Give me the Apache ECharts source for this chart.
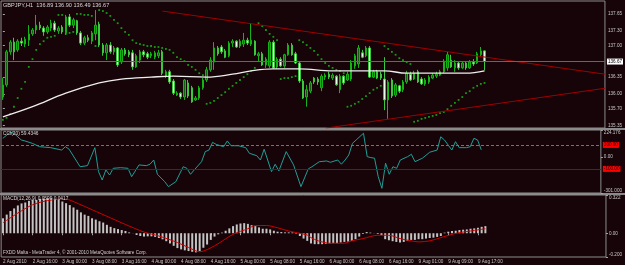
<!DOCTYPE html>
<html><head><meta charset="utf-8">
<script src="https://cdn.jsdelivr.net/npm/echarts@6/dist/echarts.min.js"></script>
<style>html,body{margin:0;padding:0;background:#160408;}#c{width:625px;height:265px;}</style>
</head><body><div id="c"></div>
<script>
// ---------- data ----------
const timeLabels = ['2 Aug 2010','2 Aug 16:00','3 Aug 00:00','3 Aug 08:00','3 Aug 16:00','4 Aug 00:00','4 Aug 08:00','4 Aug 16:00','5 Aug 00:00','5 Aug 08:00','5 Aug 16:00','6 Aug 00:00','6 Aug 08:00','6 Aug 16:00','9 Aug 01:00','9 Aug 09:00','9 Aug 17:00'];
const priceTicks = [137.65,137.30,137.00,136.35,136.00,135.70,135.35];
const cciTicks = [224.176,0,-301];
const cciTickText = ['224.176','0.00','-301.000'];
const macdTicks = [0.322,0,-0.2];
const macdTickText = ['0.322','0.00','-0.200'];
const bidPrice = 136.67;
const cciLevels = [100,-100];

const barOpen = [135.94,136.19,136.87,137.07,136.91,137.09,137.03,137.11,137.24,137.32,
137.42,137.36,137.28,137.36,137.46,137.30,137.38,137.26,137.59,137.42,
137.51,137.26,137.05,137.16,137.09,137.24,137.44,137.01,136.85,137.01,
136.87,136.95,136.66,136.91,136.87,136.85,136.56,136.70,136.87,136.83,
136.79,136.76,136.79,136.87,136.37,136.46,136.27,135.98,136.02,135.94,
136.23,136.13,135.88,135.92,136.13,136.29,136.50,136.66,136.95,136.97,
136.89,136.79,137.05,137.09,136.99,137.03,137.11,137.03,137.09,136.79,
136.83,136.60,136.58,137.07,136.56,136.72,136.58,136.81,137.01,136.83,
136.64,136.27,135.94,136.06,136.33,136.31,136.13,136.35,136.41,136.33,
136.37,136.09,136.37,136.29,136.31,136.58,136.62,136.85,136.79,136.95,
136.35,136.46,136.41,136.31,135.88,136.29,135.98,136.17,136.09,136.25,
136.41,136.31,136.46,136.31,136.21,136.25,136.33,136.37,136.39,136.46,
136.54,136.70,136.54,136.64,136.54,136.64,136.54,136.66,136.64,136.81,
136.89];
const barHigh = [136.33,136.91,137.11,137.16,137.13,137.16,137.18,137.42,137.36,137.63,
137.49,137.40,137.42,137.53,137.51,137.40,137.42,137.63,137.65,137.57,
137.53,137.30,137.20,137.22,137.30,137.73,137.49,137.05,137.05,137.07,
136.99,136.97,136.95,136.95,136.91,136.91,136.83,136.91,136.91,136.87,
136.87,136.89,136.91,136.91,136.50,136.50,136.31,136.06,136.04,136.31,
136.29,136.17,135.96,136.17,136.33,136.56,136.76,137.07,136.99,137.01,
136.93,137.09,137.13,137.11,137.13,137.26,137.16,137.46,137.11,136.87,
136.87,136.76,137.11,137.11,136.76,136.76,136.83,137.05,137.05,136.87,
136.68,136.31,136.19,136.27,136.35,136.35,136.41,136.43,136.46,136.43,
136.39,136.41,136.39,136.46,136.70,136.83,137.01,136.91,136.99,136.99,
136.50,136.50,136.46,136.76,136.29,136.33,136.23,136.19,136.29,136.48,
136.46,136.48,136.50,136.35,136.33,136.39,136.43,136.46,136.50,136.72,
136.87,136.81,136.70,136.68,136.68,136.66,136.70,136.72,136.87,136.97,
136.90];
const barLow = [135.88,136.15,136.81,136.70,136.87,136.99,136.97,136.99,137.20,137.24,
137.32,137.20,137.24,137.30,137.28,137.24,137.24,137.22,137.38,137.36,
137.22,137.01,137.01,137.07,137.03,137.11,136.97,136.79,136.70,136.83,
136.81,136.56,136.62,136.79,136.76,136.50,136.54,136.64,136.76,136.72,
136.74,136.72,136.74,136.39,136.33,136.21,135.98,135.96,135.90,135.88,
135.92,135.82,135.86,135.88,136.09,136.25,136.46,136.50,136.79,136.83,
136.74,136.76,136.97,136.95,136.95,136.97,137.01,136.99,136.79,136.66,
136.58,136.54,136.54,136.52,136.52,136.56,136.54,136.79,136.79,136.62,
136.23,135.90,135.74,136.02,136.21,136.19,136.06,136.29,136.31,136.29,
136.17,136.02,136.19,136.27,136.27,136.52,136.54,136.74,136.76,136.33,
136.33,136.31,136.29,135.67,135.49,135.92,135.94,136.02,136.04,136.21,
136.27,136.29,136.23,136.19,136.17,136.21,136.31,136.33,136.37,136.43,
136.48,136.54,136.46,136.50,136.52,136.50,136.52,136.58,136.62,136.76,
136.49];
const barClose = [136.19,136.87,137.07,136.87,137.09,137.05,137.13,137.24,137.32,137.42,
137.36,137.28,137.38,137.46,137.32,137.36,137.28,137.59,137.42,137.53,
137.26,137.05,137.16,137.11,137.26,137.42,137.01,136.85,137.01,136.87,
136.95,136.60,136.91,136.83,136.81,136.56,136.79,136.87,136.81,136.76,
136.83,136.85,136.85,136.43,136.46,136.25,136.02,136.02,135.94,136.29,
135.96,135.84,135.92,136.13,136.29,136.50,136.70,136.95,136.83,136.87,
136.76,137.05,137.09,136.97,137.09,137.11,137.05,137.11,136.81,136.83,
136.60,136.72,137.07,136.54,136.72,136.58,136.81,137.01,136.81,136.64,
136.27,135.92,136.09,136.23,136.25,136.25,136.37,136.39,136.35,136.39,
136.19,136.37,136.23,136.41,136.64,136.79,136.95,136.76,136.95,136.35,
136.46,136.33,136.33,135.88,136.25,135.96,136.19,136.06,136.25,136.43,
136.29,136.43,136.25,136.21,136.29,136.35,136.39,136.41,136.46,136.68,
136.81,136.56,136.64,136.54,136.64,136.54,136.66,136.62,136.83,136.89,
136.67];

const maIdx = [0,8,17,26,32,40,46,55,62,67,73,80,89,98,103,109,116,125,130];
const maVal = [135.53,135.74,136.02,136.23,136.31,136.35,136.37,136.35,136.41,136.48,136.52,136.52,136.48,136.48,136.48,136.43,136.43,136.43,136.48];

const sarVal = [135.47,135.51,135.59,135.74,135.92,136.11,136.25,136.56,136.72,136.91,
137.03,137.09,137.16,137.18,137.20,137.63,137.63,137.24,137.26,137.28,
137.65,137.65,137.63,137.63,137.61,136.99,137.73,137.71,137.67,137.61,
137.53,137.46,137.36,137.28,137.22,137.11,137.05,137.03,137.01,136.99,
136.99,136.97,136.97,136.95,136.93,136.91,136.85,136.76,136.72,136.68,
136.60,136.56,136.50,136.43,136.39,135.80,135.82,135.86,135.92,135.98,
136.04,136.11,136.17,136.23,136.29,136.35,136.41,136.48,136.54,137.46,
137.40,137.32,137.24,137.18,137.11,136.31,136.33,136.33,136.35,136.37,
137.11,137.07,137.01,136.95,136.89,136.81,136.72,136.64,136.58,136.54,
136.50,136.48,136.43,135.74,135.76,135.80,135.84,135.90,135.96,136.02,
136.09,136.13,136.17,136.99,136.93,136.87,136.81,136.74,136.70,136.66,
136.62,135.43,135.45,135.49,135.51,135.53,135.55,135.57,135.61,135.63,
135.69,135.76,135.82,135.88,135.94,136.02,136.06,136.13,136.17,136.21,
136.23];

const upperTrendIdx = [43.07,162.5];
const upperTrendVal = [137.71,136.41];
const lowerTrendIdx = [87.18,162.5];
const lowerTrendVal = [135.30,136.12];

const cciIdx = [0,2,3,5,6,8,10,13,16,17,18,21,23,25,26,27,28,29,30,32,34,35,37,39,40,41,42,44,45,47,49,50,51,52,54,55,56,57,58,60,61,62,64,66,67,69,70,71,73,74,75,77,79,81,83,84,86,88,89,91,92,93,94,95,96,98,99,100,101,102,103,104,105,106,107,108,110,111,112,114,116,118,119,120,122,123,124,126,127,128,129,130];
const cciVal = [155,205,197,141,133,113,85,77,57,85,64,-82,-73,77,-123,-193,-109,-151,-95,-90,-95,-165,-67,-73,-61,-26,-145,-207,-248,-207,-82,-95,-145,-109,-40,44,57,121,104,85,133,93,93,77,30,10,-26,64,-123,-61,-117,44,-67,-248,-100,-82,-40,-34,-45,-26,-61,-26,16,113,141,197,2,-6,-11,-165,-262,-53,-145,-82,-95,-26,2,22,-40,-11,39,57,168,141,57,127,77,77,85,155,141,59];

const macdHist = [0.126,0.157,0.187,0.209,0.234,0.251,0.259,0.273,0.281,0.281,
0.289,0.292,0.295,0.295,0.289,0.284,0.267,0.253,0.237,0.217,
0.198,0.176,0.157,0.146,0.126,0.115,0.101,0.090,0.071,0.054,
0.043,0.035,0.027,0.019,0.007,-0.001,-0.015,-0.023,-0.028,-0.026,
-0.026,-0.031,-0.040,-0.051,-0.067,-0.086,-0.106,-0.125,-0.136,-0.144,
-0.150,-0.156,-0.161,-0.150,-0.122,-0.095,-0.056,-0.028,-0.009,0.005,
0.021,0.041,0.060,0.074,0.082,0.085,0.079,0.068,0.060,0.049,
0.038,0.038,0.032,0.021,0.013,0.010,0.007,0.007,0.007,-0.004,
-0.023,-0.045,-0.064,-0.086,-0.092,-0.092,-0.092,-0.089,-0.086,-0.084,
-0.084,-0.078,-0.073,-0.070,-0.064,-0.050,-0.028,-0.006,0.010,0.005,
-0.001,-0.006,-0.015,-0.050,-0.059,-0.067,-0.073,-0.078,-0.073,-0.064,
-0.056,-0.056,-0.050,-0.050,-0.045,-0.040,-0.037,-0.031,-0.023,0.005,
0.013,0.019,0.021,0.027,0.030,0.032,0.038,0.041,0.046,0.054,
0.060];
const sigIdx = [0,4,8,12,15,17,20,24,29,33,38,42,47,50,53,57,62,66,68,71,74,77,82,83,85,88,92,94,97,101,104,107,110,112,115,118,122,126,130];
const sigVal = [0.088,0.170,0.240,0.275,0.286,0.286,0.253,0.198,0.129,0.074,0.010,-0.023,-0.078,-0.120,-0.156,-0.106,-0.009,0.038,0.065,0.065,0.046,0.019,-0.015,-0.037,-0.064,-0.084,-0.084,-0.064,-0.045,-0.017,-0.017,-0.045,-0.064,-0.073,-0.064,-0.037,-0.001,0.019,0.038];

const titleMain = 'GBPJPY,H1  136.89 136.90 136.49 136.67';
const titleCci = 'CCI(20) 59.4346';
const titleMacd = 'MACD(12,26,9) 0.0599 0.0417';
const copyright = 'FXDD Malta - MetaTrader 4, \u00A9 2001-2010 MetaQuotes Software Corp.';

// ---------- chart ----------
const SLOTS = 163; // bars + empty right shift area
const cats = Array.from({length: SLOTS}, (_, i) => String(i));
const candles = barOpen.map((o, i) => [o, barClose[i], barLow[i], barHigh[i]]);
const sar = sarVal.map((v, i) => [i, v]);
const ma = maIdx.map((x, k) => [x, maVal[k]]);
const cci = cciIdx.map((x, k) => [x, cciVal[k]]);
const sig = sigIdx.map((x, k) => [x, sigVal[k]]);
const upT = upperTrendIdx.map((x, k) => [x, upperTrendVal[k]]);
const loT = lowerTrendIdx.map((x, k) => [x, lowerTrendVal[k]]);

const FONT = 'Liberation Sans';
const LAB = {fontFamily: FONT, fontSize: 4.6, color: '#c8c8c8'};
const BORDER = '#8c8c8c';
const lastLabelIdx = (timeLabels.length - 1) * 8;
const timeShow = (i) => i % 8 === 0 && i <= lastLabelIdx;
// edge labels of the sub-windows sit just inside the window, as in the terminal
const edgeLabel = (ticks, texts) => (v) => {
  let b = 0; for (let k = 1; k < ticks.length; k++) if (Math.abs(ticks[k] - v) < Math.abs(ticks[b] - v)) b = k;
  if (b === 0) return '{t|' + texts[b] + '}';
  if (b === ticks.length - 1) return '{b|' + texts[b] + '}';
  return texts[b];
};
const edgeRich = {t: {padding: [5, 0, 0, 0], fontSize: 4.6, color: '#c8c8c8', fontFamily: FONT},
                  b: {padding: [0, 0, 5, 0], fontSize: 4.6, color: '#c8c8c8', fontFamily: FONT}};

const chart = echarts.init(document.getElementById('c'), null, {renderer: 'canvas', width: 625, height: 265});
chart.setOption({
  backgroundColor: '#160408',
  animation: false,
  textStyle: {fontFamily: FONT},
  grid: [
    {left: 1, top: 1, width: 606, height: 127, show: true, borderColor: BORDER, borderWidth: 1},
    {left: 1, top: 130, width: 606, height: 63, show: true, borderColor: BORDER, borderWidth: 1},
    {left: 1, top: 195, width: 606, height: 62, show: true, borderColor: BORDER, borderWidth: 1}
  ],
  xAxis: [
    {type: 'category', gridIndex: 0, data: cats, boundaryGap: true, show: false},
    {type: 'category', gridIndex: 1, data: cats, boundaryGap: true, show: false},
    {type: 'category', gridIndex: 2, data: cats, boundaryGap: true,
      axisLine: {show: false},
      axisTick: {show: true, alignWithLabel: true, interval: (i) => timeShow(i), length: 2, lineStyle: {color: '#a8a8a8'}},
      axisLabel: {interval: (i) => timeShow(i), formatter: (v, i) => timeLabels[i / 8] || '', align: 'left', margin: 2, ...LAB}},
    {type: 'value', gridIndex: 0, min: -0.5, max: SLOTS - 0.5, show: false}
  ],
  yAxis: [
    {type: 'value', gridIndex: 0, position: 'right', min: 135.302, max: 137.917,
      splitLine: {show: false}, axisLine: {show: false},
      axisTick: {show: true, customValues: priceTicks, length: 2, lineStyle: {color: '#a8a8a8'}},
      axisLabel: {customValues: priceTicks, formatter: (v) => v.toFixed(2), margin: 3, ...LAB}},
    {type: 'value', gridIndex: 1, position: 'right', min: -301, max: 224.176,
      splitLine: {show: false}, axisLine: {show: false},
      axisTick: {show: true, customValues: cciTicks, length: 2, lineStyle: {color: '#a8a8a8'}},
      axisLabel: {customValues: cciTicks, formatter: edgeLabel(cciTicks, cciTickText), rich: edgeRich, margin: 3, ...LAB}},
    {type: 'value', gridIndex: 2, position: 'right', min: -0.2, max: 0.322,
      splitLine: {show: false}, axisLine: {show: false},
      axisTick: {show: true, customValues: macdTicks, length: 2, lineStyle: {color: '#a8a8a8'}},
      axisLabel: {customValues: macdTicks, formatter: edgeLabel(macdTicks, macdTickText), rich: edgeRich, margin: 3, ...LAB}}
  ],
  series: [
    {type: 'candlestick', xAxisIndex: 0, yAxisIndex: 0, data: candles, barWidth: 2,
      itemStyle: {color: '#0b640b', borderColor: '#14b414', color0: '#e4ffe4', borderColor0: '#3cc83c', borderWidth: 1},
      markLine: {silent: true, symbol: 'none', animation: false,
        data: [{yAxis: bidPrice,
          lineStyle: {color: '#666666', type: 'solid', width: 1},
          label: {show: true, position: 'end', distance: 2, formatter: bidPrice.toFixed(2),
            backgroundColor: '#ffffff', color: '#000000', padding: [1, 1, 0, 1], fontFamily: FONT, fontSize: 4.6}}]}},
    {type: 'line', xAxisIndex: 0, yAxisIndex: 0, data: ma, smooth: 0.4, showSymbol: false, silent: true,
      lineStyle: {color: '#eeeeee', width: 1.3}},
    {type: 'scatter', xAxisIndex: 0, yAxisIndex: 0, data: sar, symbol: 'rect', symbolSize: 1.8, silent: true,
      itemStyle: {color: '#16c016'}},
    {type: 'line', xAxisIndex: 3, yAxisIndex: 0, data: upT, showSymbol: false, silent: true,
      lineStyle: {color: '#a00000', width: 1}},
    {type: 'line', xAxisIndex: 3, yAxisIndex: 0, data: loT, showSymbol: false, silent: true,
      lineStyle: {color: '#a00000', width: 1}},
    {type: 'line', xAxisIndex: 1, yAxisIndex: 1, data: cci, showSymbol: false, silent: true,
      lineStyle: {color: '#1f9e96', width: 1},
      markLine: {silent: true, symbol: 'none', animation: false,
        data: [
          {yAxis: cciLevels[0], lineStyle: {color: '#e04444', type: [3, 2], width: 1},
            label: {show: true, position: 'end', distance: 2, formatter: cciLevels[0].toFixed(2),
              backgroundColor: '#ff0000', color: '#1a0000', padding: [1, 1, 0, 1], fontFamily: FONT, fontSize: 4.6}},
          {yAxis: cciLevels[1], lineStyle: {color: '#a00000', type: 'solid', width: 1},
            label: {show: true, position: 'end', distance: 2, formatter: cciLevels[1].toFixed(2),
              backgroundColor: '#ff0000', color: '#1a0000', padding: [1, 1, 0, 1], fontFamily: FONT, fontSize: 4.6}}
        ]}},
    {type: 'bar', xAxisIndex: 2, yAxisIndex: 2, data: macdHist, barWidth: 2, silent: true,
      itemStyle: {color: '#c4c4c4'}},
    {type: 'line', xAxisIndex: 2, yAxisIndex: 2, data: sig, smooth: 0.3, showSymbol: false, silent: true,
      lineStyle: {color: '#cc0000', width: 1}}
  ],
  graphic: [
    {type: 'rect', z: -10, shape: {x: 0, y: 128, width: 625, height: 2}, style: {fill: '#8a8a8a'}, silent: true},
    {type: 'rect', z: -10, shape: {x: 0, y: 193, width: 625, height: 2}, style: {fill: '#8a8a8a'}, silent: true},
    {type: 'text', x: 3, y: 2, style: {text: titleMain, fill: '#d8d8d8', font: '5.6px "Liberation Sans"'}, silent: true, z: 100},
    {type: 'text', x: 3, y: 131, style: {text: titleCci, fill: '#d8d8d8', font: '4.8px "Liberation Sans"'}, silent: true, z: 100},
    {type: 'text', x: 3, y: 196, style: {text: titleMacd, fill: '#d8d8d8', font: '4.8px "Liberation Sans"'}, silent: true, z: 100},
    {type: 'text', x: 3, y: 250, style: {text: copyright, fill: '#d0d0d0', font: '4.6px "Liberation Sans"'}, silent: true, z: 100}
  ]
});
</script></body></html>
